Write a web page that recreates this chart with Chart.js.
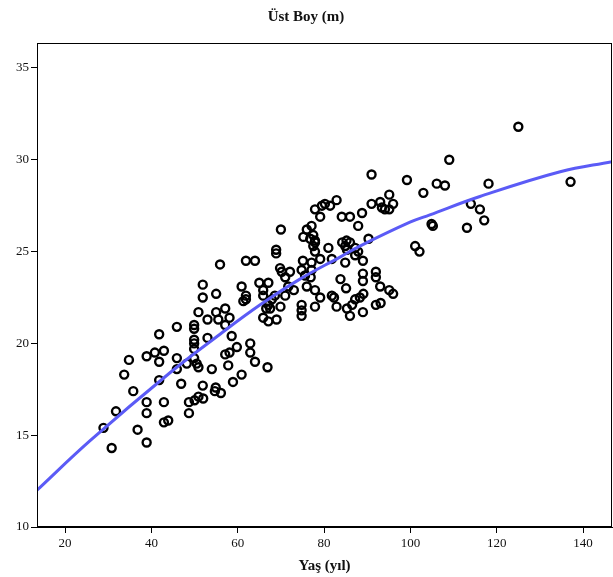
<!DOCTYPE html>
<html lang="tr">
<head>
<meta charset="UTF-8">
<title>Üst Boy (m)</title>
<script src="https://cdn.jsdelivr.net/npm/chart.js@4.4.1/dist/chart.umd.min.js"></script>
<style>
  html, body { margin: 0; padding: 0; background: #fff; }
</style>
</head>
<body>
<canvas id="grafica" width="613" height="577"></canvas>
<script>
// Edad (años) de cada árbol medido
const yas = [
    41.8, 40.8, 42.9, 38.9, 34.8, 41.8, 33.7, 41.8, 35.8, 38.9, 42.9, 38.9, 31.8, 42.9, 43.9, 28.9, 36.8, 38.9, 30.8,
    45.9, 49.9, 49.9, 53.0, 49.9, 49.9, 49.9, 53.0, 45.9, 49.9, 50.5, 48.2, 45.9, 50.9, 54.0, 46.9, 51.9, 54.9, 54.7, 56.1,
    58.9, 60.9, 48.7, 50.0, 50.9, 52.0, 48.7, 51.9, 51.9, 55.0, 55.9, 61.9, 64.0, 60.9, 61.9, 61.9, 61.3, 50.9, 55.0, 57.1,
    55.5, 58.1, 57.1, 58.6, 59.8, 58.1, 57.1, 62.9, 62.9, 57.8, 64.0,
    68.9, 68.9, 69.8, 70.2, 72.1, 65.0, 67.1, 65.9, 65.9, 71.0, 71.0, 71.7, 73.0, 68.6, 67.9, 67.1, 66.6, 67.5, 69.9,
    65.9, 67.1, 69.0, 66.9, 70.0, 76.0, 77.1, 77.5, 76.8, 77.9, 77.9, 77.5, 77.9, 75.2, 81.0, 79.1, 75.1, 77.1, 81.8,
    74.8, 77.1, 75.6, 76.9, 76.0, 77.9, 79.1, 74.8, 74.8, 74.8, 77.9, 81.8, 82.3, 82.9, 80.2, 81.4, 79.5, 77.9, 79.1, 82.9,
    84.1, 86.0, 88.8, 87.9, 84.2, 85.2, 86.0, 84.9, 85.3, 87.2, 87.9, 87.2, 84.9, 89.0, 83.8, 85.1, 89.1, 88.3, 87.2,
    86.5, 85.3, 86.0, 89.0, 89.0, 89.0, 92.0, 92.0, 93.0, 95.1, 96.0, 92.0, 93.1, 90.3, 91.0, 99.2, 103.0, 95.1, 91.0,
    93.0, 93.4, 94.1, 95.1, 96.0, 101.1, 102.1, 125.0, 109.0, 106.1, 108.0, 118.1, 114.0, 116.1, 117.1, 104.9, 105.2,
    113.1, 137.1
];

// Altura dominante (m) de cada árbol, en el mismo orden
const ustBoy = [
    20.5, 19.5, 19.6, 19.3, 19.1, 19.0, 18.3, 18.0, 17.4, 16.8, 16.8, 16.2, 16.3, 15.7, 15.8, 15.4, 15.3, 14.6, 14.3,
    20.9, 21.0, 20.8, 21.3, 20.2, 20.0, 19.7, 20.3, 19.2, 19.2, 18.9, 18.9, 18.6, 18.7, 18.6, 17.8, 17.7, 17.6, 17.4, 17.3,
    17.9, 18.3, 16.8, 16.9, 17.1, 17.0, 16.2, 23.2, 22.5, 22.7, 24.3, 24.5, 24.5, 23.1, 22.6, 22.4, 22.3, 21.7, 21.7, 21.9,
    21.3, 21.4, 21.0, 20.4, 19.8, 19.5, 19.4, 20.0, 19.5, 18.8, 19.0,
    25.1, 24.9, 24.1, 23.9, 23.9, 23.3, 23.3, 22.9, 22.6, 23.6, 22.6, 23.1, 22.9, 22.6, 22.4, 22.1, 21.9, 21.9, 22.0,
    21.4, 21.2, 21.3, 18.7, 26.2, 26.2, 26.4, 25.9, 25.7, 25.6, 25.5, 25.3, 25.0, 25.8, 25.2, 24.6, 24.5, 24.4, 24.6,
    24.0, 24.0, 23.7, 23.6, 23.1, 22.9, 22.5, 22.1, 21.8, 21.5, 22.0, 22.6, 22.5, 22.0, 27.6, 27.5, 27.5, 27.3, 26.9, 27.8,
    26.9, 26.9, 27.1, 26.4, 25.5, 25.6, 25.5, 25.3, 25.1, 25.2, 25.0, 24.8, 24.4, 24.5, 23.5, 23.0, 22.7, 22.5, 22.4,
    22.1, 21.9, 21.5, 21.7, 23.8, 23.4, 23.9, 23.6, 23.1, 22.9, 22.7, 22.1, 22.2, 25.7, 29.2, 28.9, 28.2, 28.1, 27.6,
    27.7, 27.4, 27.3, 27.3, 27.6, 25.3, 25.0, 31.8, 30.0, 28.7, 28.6, 28.7, 27.6, 27.3, 26.7, 26.5, 26.4,
    26.3, 28.8
];

// Curva de ajuste (edad / altura)
const egriYas = [13.5, 25.8, 44.3, 55.9, 65.2, 74.4, 83.7, 88.3, 99.9, 104.5, 116.1, 134.7, 146.7];
const egriBoy = [12.0, 14.7, 18.4, 20.5, 22.1, 23.5, 24.7, 25.3, 26.6, 27.0, 28.0, 29.35, 29.9];

// Marcas de los ejes
const ticksX = [20, 40, 60, 80, 100, 120, 140];
const ticksY = [10, 15, 20, 25, 30, 35];

const fuente = "'Liberation Serif', 'Times New Roman', serif";

// Marco completo alrededor del área de la gráfica
const marco = {
    id: 'marco',
    afterDraw(chart) {
        const { ctx, chartArea: a } = chart;
        ctx.save();
        ctx.strokeStyle = '#000';
        ctx.lineWidth = 1;
        ctx.strokeRect(a.left + 0.5, a.top + 0.5, a.right - a.left - 1, a.bottom - a.top - 1);
        ctx.restore();
    }
};

const puntos = yas.map((x, i) => ({ x: x, y: ustBoy[i] }));
const curva = egriYas.map((x, i) => ({ x: x, y: egriBoy[i] }));

new Chart(document.getElementById('grafica'), {
    type: 'scatter',
    data: {
        datasets: [
            {
                // la curva va primero para que quede encima de los puntos
                data: curva,
                showLine: true,
                borderColor: '#5b5bf6',
                borderWidth: 3,
                pointRadius: 0,
                tension: 0.4
            },
            {
                data: puntos,
                pointRadius: 4,
                pointBorderWidth: 2.4,
                borderColor: '#000',
                backgroundColor: 'rgba(0,0,0,0)'
            }
        ]
    },
    options: {
        responsive: false,
        animation: false,
        // sin margen automático para los puntos: el área llega al borde derecho
        layout: { autoPadding: false, padding: { left: 0, right: 1, top: 0, bottom: 0 } },
        plugins: {
            legend: { display: false },
            tooltip: { enabled: false },
            title: {
                display: true,
                text: 'Üst Boy (m)',
                color: '#111',
                font: { family: fuente, size: 15, weight: 'bold' },
                padding: { top: 8, bottom: 17 }
            }
        },
        scales: {
            x: {
                type: 'linear',
                min: 13.5,
                max: 146.7,
                afterBuildTicks: s => { s.ticks = ticksX.map(v => ({ value: v })); },
                // alto fijo y sin margen extra por las etiquetas
                afterFit: s => { s.height = 50; s.paddingLeft = 0; s.paddingRight = 0; },
                grid: { drawOnChartArea: false, drawTicks: true, tickLength: 6, color: '#000' },
                border: { display: true, color: '#000', width: 1 },
                ticks: { color: '#111', font: { family: fuente, size: 13 }, padding: 3, maxRotation: 0 },
                title: {
                    display: true,
                    text: 'Yaş (yıl)',
                    color: '#111',
                    font: { family: fuente, size: 15, weight: 'bold' },
                    padding: { top: 0, bottom: 2 }
                }
            },
            y: {
                type: 'linear',
                min: 10,
                max: 36.36,
                afterBuildTicks: s => { s.ticks = ticksY.map(v => ({ value: v })); },
                afterFit: s => { s.width = 37; s.paddingTop = 0; s.paddingBottom = 0; },
                grid: { drawOnChartArea: false, drawTicks: true, tickLength: 6, color: '#000' },
                border: { display: true, color: '#000', width: 1 },
                ticks: { color: '#111', font: { family: fuente, size: 13 }, padding: 2 }
            }
        }
    },
    plugins: [marco]
});
</script>
</body>
</html>
